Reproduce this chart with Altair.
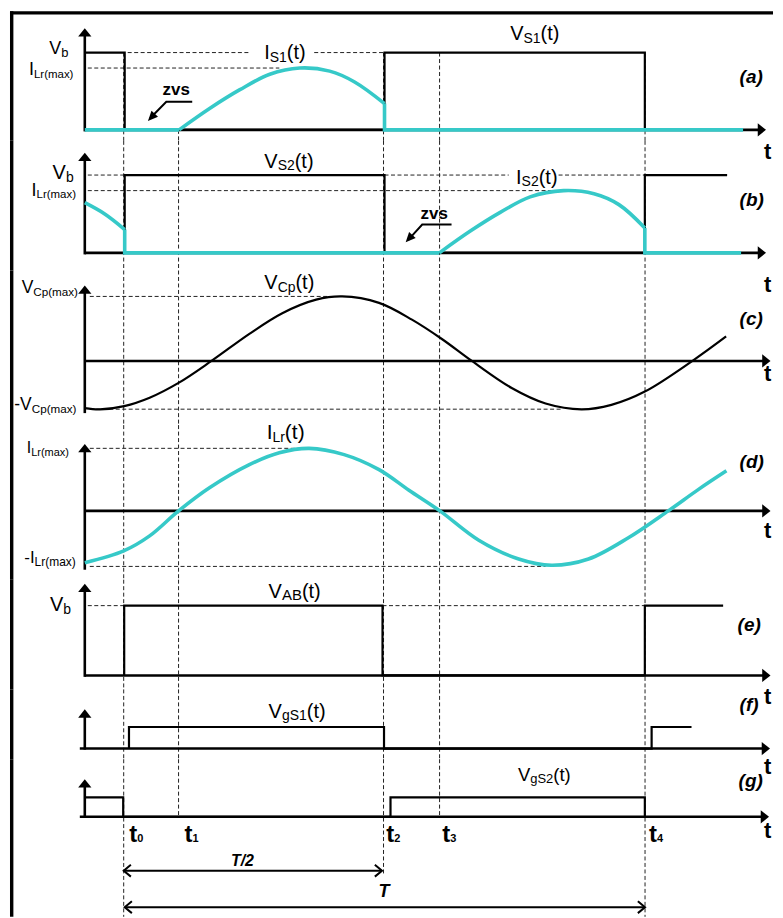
import altair as alt
import pandas as pd

# ------------------------------------------------------------------ data
# time axis: arbitrary units, t0 = 0, one period T = 522
EVENT_SUB = ["0", "1", "2", "3", "4"]
EVENT_T = [-0.5, 54.5, 260.0, 316.2, 522.2]
EVENT_LABEL_T = [5.0, 60.5, 262.8, 318.8, 526.2]

# (a) V_S1 and I_S1   (levels: Vb = 1, I_Lr(max) = 0.8)
VS1_T = [-39.5, 0.5, 0.5, 261.0, 261.0, 522.0, 522.0]
VS1_V = [1, 1, 0, 0, 1, 1, 0]
IS1_OFF1_T = [-39.5, 55.0]
IS1_OFF1_V = [0, 0]
IS1_ON_T = [55.0, 86.0, 116.0, 146.0, 176.0, 206.0, 231.0, 261.0]
IS1_ON_V = [0, 0.28, 0.52, 0.72, 0.80, 0.76, 0.62, 0.34]
IS1_OFF2_T = [261.0, 261.0, 620.5]
IS1_OFF2_V = [0.34, 0, 0]

# (b) V_S2 and I_S2
VS2_T = [0.5, 0.5, 261.0, 261.0, 522.0, 522.0, 604.5]
VS2_V = [0, 1, 1, 0, 0, 1, 1]
IS2_TAIL_T = [-39.5, -19.5, 0.5]
IS2_TAIL_V = [0.645, 0.50, 0.30]
IS2_OFF_T = [0.5, 0.5, 316.0]
IS2_OFF_V = [0.30, 0, 0]
IS2_ON_T = [316.0, 347.0, 377.0, 407.0, 440.5, 471.0, 496.0, 522.0]
IS2_ON_V = [0, 0.28, 0.52, 0.72, 0.80, 0.76, 0.62, 0.32]
IS2_OFF2_T = [522.0, 522.0, 618.5]
IS2_OFF2_V = [0.32, 0, 0]

# (c) V_Cp  (V_Cp(max) = 1)
VCP_T = [-39.5, -24.5, 0.0, 25.5, 54.5, 87.5, 125.5, 158.5, 192.5, 218.5, 255.5,
         288.5, 318.5, 348.5, 388.5, 422.5, 458.5, 488.5, 522.5, 570.5, 603.5]
VCP_V = [-0.73, -0.75, -0.70, -0.57, -0.34, 0.0, 0.42, 0.74, 0.95, 1.0, 0.90,
         0.64, 0.34, 0.0, -0.42, -0.66, -0.75, -0.68, -0.47, 0.01, 0.38]
VCP_MAX, VCP_MIN = 1.0, -0.747

# (d) I_Lr  (I_Lr(max) = 1)
ILR_T = [-39.5, -0.5, 25.5, 54.5, 85.5, 125.5, 155.5, 185.5, 220.5, 255.5, 285.5,
         316.5, 355.5, 395.5, 428.5, 465.5, 505.5, 545.5, 575.5, 603.8]
ILR_V = [-0.83, -0.64, -0.40, 0.0, 0.37, 0.74, 0.93, 1.0, 0.90, 0.66, 0.33,
         0.0, -0.47, -0.77, -0.87, -0.77, -0.43, 0.0, 0.34, 0.64]
ILR_MAX, ILR_MIN = 1.0, -0.888

# (e) V_AB
VAB_T = [0.0, 0.0, 259.0, 259.0, 522.0, 522.0, 600.5]
VAB_V = [0, 1, 1, 0, 0, 1, 1]

# (f) V_gS1, (g) V_gS2
VGS1_T = [4.8, 4.8, 260.5, 260.5, 528.8, 528.8, 568.8]
VGS1_V = [0, 1, 1, 0, 0, 1, 1]
VGS2_T = [-39.5, -1.0, -1.0, 267.0, 267.0, 522.0, 522.0]
VGS2_V = [1, 1, 0, 0, 1, 1, 0]

# ------------------------------------------------------------------ layout
FONT = "Liberation Sans"
CYAN = "#36C9C8"
XDOM = [-116.5, 650.5]   # one time unit = one pixel
W = 767
FRAME_T = -112.8
YAX_T = -39.5
T_LABEL_T = 641.5
UP = "M0,0L1,1.25L-1,1.25Z"
RIGHT = "M0,0L-1.25,-1L-1.25,1Z"
ZVS_HEAD = "M0,0L1,2.2L-1,2.2Z"
OPEN_R = "M-1.2,-1L0,0L-1.2,1"
OPEN_L = "M1.2,-1L0,0L1.2,1"

PANELS = {
    "a": dict(base=129.0, k=77.5, top=8, bottom=140),
    "b": dict(base=252.3, k=78.0, top=140, bottom=270),
    "c": dict(base=360.7, k=64.7, top=270, bottom=425),
    "d": dict(base=511.0, k=62.7, top=425, bottom=580),
    "e": dict(base=676.0, k=70.0, top=580, bottom=690),
    "f": dict(base=749.3, k=21.6, top=690, bottom=760),
    "g": dict(base=817.7, k=19.4, top=760, bottom=918),
}

W_REG = {'V': .667, 'b': .556, 'I': .278, 'L': .556, 'r': .333, '(': .333, ')': .333,
         'm': .833, 'a': .556, 'x': .5, 'S': .667, '1': .556, '2': .556, 't': .278,
         'C': .722, 'p': .556, '-': .333, 'A': .667, 'B': .667, 'g': .556}
W_BOLD = {'t': .333, 'z': .5, 'v': .556, 's': .556, 'T': .611, '/': .278}


def seg_rows(rows, name, ts, vs):
    for j, (t, v) in enumerate(zip(ts, vs)):
        rows.append(dict(seg=name, i=j, t=t, v=v))


def text_rows(out, style, t, v, parts, k):
    x = t
    for txt, size, dy in parts:
        out.append(dict(style=style, t=x, v=v - dy / k, text=txt, size=size))
        table = W_REG if style == "n" else W_BOLD
        x += sum(table.get(c, .556) for c in txt) * size


def xs(field="t"):
    return alt.X(f"{field}:Q", scale=alt.Scale(domain=XDOM, nice=False, zero=False), axis=None)


def ys(field, dom):
    return alt.Y(f"{field}:Q", scale=alt.Scale(domain=dom, nice=False, zero=False), axis=None)


def build_panel(p, black=(), black_smooth=(), cyan=(), cyan_smooth=(), hdash=(), vdash=(),
                axis=None, labels=(), extra_lines=(), heads=(), open_heads=(), frame_top=None):
    cfg = PANELS[p]
    k = cfg["k"]
    lo = (cfg["base"] - cfg["bottom"]) / k
    hi = (cfg["base"] - cfg["top"]) / k
    dom = [lo, hi]
    h = cfg["bottom"] - cfg["top"]
    layers = []

    # frame
    if frame_top is not None:
        fr = [dict(t1=FRAME_T, t2=FRAME_T, v1=lo, v2=frame_top + 1.7 / k),
              dict(t1=FRAME_T - 1.7, t2=XDOM[1], v1=frame_top, v2=frame_top)]
    else:
        fr = [dict(t1=FRAME_T, t2=FRAME_T, v1=lo, v2=hi)]
    layers.append(alt.Chart(pd.DataFrame(fr)).mark_rule(color="black", strokeWidth=3.4)
                  .encode(x=xs("t1"), x2="t2", y=ys("v1", dom), y2="v2"))
    # dashed guides
    if vdash:
        layers.append(alt.Chart(pd.DataFrame(vdash, columns=["t", "v1", "v2"]))
                      .mark_rule(color="#222", strokeWidth=1, strokeDash=[4, 2.5])
                      .encode(x=xs("t"), y=ys("v1", dom), y2="v2"))
    if hdash:
        layers.append(alt.Chart(pd.DataFrame(hdash, columns=["t1", "t2", "v"]))
                      .mark_rule(color="#222", strokeWidth=1, strokeDash=[4, 2.5])
                      .encode(x=xs("t1"), x2="t2", y=ys("v", dom)))
    # axes
    seglist = []
    hd = list(heads)
    if axis is not None:
        ytip, ybot, xstart, xtip = axis
        seglist.append(dict(t1=YAX_T, t2=YAX_T, v1=ybot, v2=ytip - 4 / k))
        seglist.append(dict(t1=xstart, t2=xtip - 4, v1=0, v2=0))
        hd.append(dict(t=YAX_T, v=ytip, path=UP, size=177, ang=0))
        hd.append(dict(t=xtip, v=0, path=RIGHT, size=177, ang=0))
    if seglist:
        layers.append(alt.Chart(pd.DataFrame(seglist)).mark_rule(color="black", strokeWidth=2.6)
                      .encode(x=xs("t1"), x2="t2", y=ys("v1", dom), y2="v2"))
    if hd:
        layers.append(alt.Chart(pd.DataFrame(hd)).mark_point(filled=True, opacity=1, color="black", strokeWidth=0)
                      .encode(x=xs("t"), y=ys("v", dom), shape=alt.Shape("path:N", scale=None),
                              size=alt.Size("size:Q", scale=None), angle=alt.Angle("ang:Q", scale=None)))
    if open_heads:
        layers.append(alt.Chart(pd.DataFrame(list(open_heads)))
                      .mark_point(filled=False, opacity=1, color="black", strokeWidth=2)
                      .encode(x=xs("t"), y=ys("v", dom), shape=alt.Shape("path:N", scale=None),
                              size=alt.Size("size:Q", scale=None)))
    if extra_lines:
        rows = []
        for n, (ts, vs) in enumerate(extra_lines):
            seg_rows(rows, f"e{n}", ts, vs)
        layers.append(alt.Chart(pd.DataFrame(rows)).mark_line(color="black", strokeWidth=2)
                      .encode(x=xs("t"), y=ys("v", dom), detail="seg:N", order="i:Q"))

    def lines(segs, color, width, interp):
        rows = []
        for n, (ts, vs) in enumerate(segs):
            seg_rows(rows, f"s{n}", ts, vs)
        return (alt.Chart(pd.DataFrame(rows))
                .mark_line(color=color, strokeWidth=width, interpolate=interp, strokeJoin="miter")
                .encode(x=xs("t"), y=ys("v", dom), detail="seg:N", order="i:Q"))

    if black:
        layers.append(lines(black, "black", 2.2, "linear"))
    if black_smooth:
        layers.append(lines(black_smooth, "black", 2.2, "catmull-rom"))
    if cyan:
        layers.append(lines(cyan, CYAN, 3.6, "linear"))
    if cyan_smooth:
        layers.append(lines(cyan_smooth, CYAN, 3.6, "catmull-rom"))

    trows = []
    for style, t, v, parts in labels:
        text_rows(trows, style, t, v, parts, k)
    tdf = pd.DataFrame(trows)
    for style, kw in [("n", {}), ("b", dict(fontWeight="bold")),
                      ("bi", dict(fontWeight="bold", fontStyle="italic"))]:
        sub = tdf[tdf["style"] == style] if len(tdf) else tdf
        if len(sub):
            layers.append(alt.Chart(sub).mark_text(align="left", baseline="alphabetic", font=FONT,
                                                   color="black", **kw)
                          .encode(x=xs("t"), y=ys("v", dom), text="text:N",
                                  size=alt.Size("size:Q", scale=None)))
    return alt.layer(*layers).properties(width=W, height=h)


def vd(panel_ranges):
    return [(t, a, b) for t, (a, b) in zip(EVENT_T, panel_ranges)]


def full(p):
    c = PANELS[p]
    return ((c["base"] - c["top"]) / c["k"], (c["base"] - c["bottom"]) / c["k"])


# ---- panel (a)
hiA, loA = full("a")
pa = build_panel(
    "a",
    black=[(VS1_T, VS1_V)],
    cyan=[(IS1_OFF1_T, IS1_OFF1_V), (IS1_OFF2_T, IS1_OFF2_V)],
    cyan_smooth=[(IS1_ON_T, IS1_ON_V)],
    hdash=[(3.5, 125.5, 1.0), (190.5, 261.0, 1.0), (-36.5, 155.5, 0.8)],
    vdash=vd([(1.0, loA), (0.0, loA), (1.0, loA), (1.0, loA), (1.0, loA)]),
    axis=(1.316, -0.02, YAX_T, 643.5),
    extra_lines=[([68.2, 42.2, 26.0], [0.364, 0.364, 0.15])],
    heads=[dict(t=23.8, v=0.116, path=ZVS_HEAD, size=81, ang=223.6)],
    frame_top=(129.0 - 11.7) / 77.5,
    labels=[
        ("n", -75.2, 0.977, [("V", 18, 0), ("b", 13, 3)]),
        ("n", -95.5, 0.71, [("I", 18, 0), ("Lr(max)", 11.5, 3)]),
        ("n", 140.3, 0.916, [("I", 20, 0), ("S1", 14, 2.5), ("(t)", 20, 0)]),
        ("n", 387.0, 1.161, [("V", 20, 0), ("S1", 14, 2.5), ("(t)", 20, 0)]),
        ("b", 38.5, 0.448, [("zvs", 17, 0)]),
        ("bi", 617.0, 0.606, [("(a)", 19, 0)]),
        ("b", T_LABEL_T, -0.374, [("t", 22, 0)]),
    ],
)

# ---- panel (b)
hiB, loB = full("b")
pb = build_panel(
    "b",
    black=[(VS2_T, VS2_V)],
    cyan=[(IS2_OFF_T, IS2_OFF_V), (IS2_OFF2_T, IS2_OFF2_V)],
    cyan_smooth=[(IS2_TAIL_T, IS2_TAIL_V), (IS2_ON_T, IS2_ON_V)],
    hdash=[(-36.5, 0.0, 1.0), (261.0, 385.5, 1.0), (435.5, 522.0, 1.0), (-36.5, 437.0, 0.8)],
    vdash=vd([(hiB, loB)] * 5),
    axis=(1.286, -0.02, YAX_T, 643.5),
    extra_lines=[([328.2, 298.8, 285.0], [0.363, 0.363, 0.17])],
    heads=[dict(t=282.2, v=0.136, path=ZVS_HEAD, size=81, ang=223.0)],
    labels=[
        ("n", -71.8, 0.949, [("V", 20, 0), ("b", 14, 3)]),
        ("n", -92.9, 0.735, [("I", 18, 0), ("Lr(max)", 11.5, 2)]),
        ("n", 140.5, 1.097, [("V", 20, 0), ("S2", 14, 2.5), ("(t)", 20, 0)]),
        ("n", 392.9, 0.885, [("I", 20, 0), ("S2", 14, 2.5), ("(t)", 20, 0)]),
        ("b", 297.2, 0.436, [("zvs", 17, 0)]),
        ("bi", 617.0, 0.606, [("(b)", 19, 0)]),
        ("b", T_LABEL_T, -0.509, [("t", 22, 0)]),
    ],
)

# ---- panel (c)
hiC, loC = full("c")
pc = build_panel(
    "c",
    black_smooth=[(VCP_T, VCP_V)],
    hdash=[(-34.5, 205.5, VCP_MAX), (-34.5, 437.5, VCP_MIN)],
    vdash=vd([(hiC, loC)] * 5),
    axis=(1.17, -0.808, YAX_T, 648.0),
    labels=[
        ("n", -102.8, 1.054, [("V", 17.5, 0), ("Cp(max)", 11.7, 3)]),
        ("n", -110.2, -0.762, [("-V", 17.5, 0), ("Cp(max)", 11.7, 3)]),
        ("n", 140.5, 1.108, [("V", 20, 0), ("Cp", 14, 2.5), ("(t)", 20, 0)]),
        ("bi", 617.0, 0.552, [("(c)", 19, 0)]),
        ("b", T_LABEL_T, -0.314, [("t", 22, 0)]),
    ],
)

# ---- panel (d)
hiD, loD = full("d")
pd_ = build_panel(
    "d",
    cyan_smooth=[(ILR_T, ILR_V)],
    hdash=[(-34.5, 180.5, ILR_MAX), (-34.5, 422.5, ILR_MIN)],
    vdash=vd([(hiD, loD)] * 5),
    axis=(1.069, -0.941, YAX_T, 648.0),
    labels=[
        ("n", -97.7, 0.92, [("I", 16, 0), ("Lr(max)", 11, 2.5)]),
        ("n", -100.2, -0.834, [("-I", 17, 0), ("Lr(max)", 12, 2.5)]),
        ("n", 142.8, 1.144, [("I", 21, 0), ("Lr", 14, 2.5), ("(t)", 21, 0)]),
        ("bi", 617.0, 0.678, [("(d)", 19, 0)]),
        ("b", T_LABEL_T, -0.431, [("t", 22, 0)]),
    ],
)

# ---- panel (e)
hiE, loE = full("e")
pe = build_panel(
    "e",
    black=[(VAB_T, VAB_V)],
    hdash=[(-36.5, 0.0, 1.0), (259.0, 522.0, 1.0)],
    vdash=vd([(hiE, loE)] * 5),
    axis=(1.314, -0.02, YAX_T, 648.0),
    labels=[
        ("n", -74.5, 0.919, [("V", 20, 0), ("b", 14, 3)]),
        ("n", 144.8, 1.11, [("V", 20, 0), ("AB", 15, 2), ("(t)", 20, 0)]),
        ("bi", 615.0, 0.636, [("(e)", 19, 0)]),
        ("b", T_LABEL_T, -0.414, [("t", 22, 0)]),
    ],
)

# ---- panel (f)
hiF, loF = full("f")
pf = build_panel(
    "f",
    black=[(VGS1_T, VGS1_V)],
    vdash=vd([(hiF, loF)] * 5),
    axis=(1.82, -0.05, -44.5, 647.5),
    labels=[
        ("n", 144.8, 1.435, [("V", 20, 0), ("gS1", 14, 2), ("(t)", 20, 0)]),
        ("bi", 617.0, 1.75, [("(f)", 19, 0)]),
        ("b", T_LABEL_T, -1.19, [("t", 22, 0)]),
    ],
)

# ---- panel (g)
hiG, loG = full("g")
HALF_V, FULL_V = -2.784, -4.67
g_labels = [
    ("n", 394.8, 1.856, [("V", 18.5, 0), ("gS2", 13, 2), ("(t)", 18.5, 0)]),
    ("bi", 616.0, 1.531, [("(g)", 19, 0)]),
    ("b", T_LABEL_T, -1.098, [("t", 22, 0)]),
    ("bi", 107.0, -2.54, [("T/2", 16, 0)]),
    ("bi", 255.0, -4.14, [("T", 18, 0)]),
]
for s, tl in zip(EVENT_SUB, EVENT_LABEL_T):
    g_labels.append(("b", tl, -1.32, [("t", 24, 0), (s, 11, 0)]))
pg = build_panel(
    "g",
    black=[(VGS2_T, VGS2_V)],
    vdash=vd([(hiG, loG), (hiG, 0.0), (hiG, -2.95), (hiG, 0.0), (hiG, loG)]),
    axis=(1.943, -0.05, -44.5, 646.5),
    extra_lines=[([EVENT_T[0], EVENT_T[2] - 1.5], [HALF_V, HALF_V]),
                 ([EVENT_T[0] + 1, EVENT_T[4]], [FULL_V, FULL_V])],
    open_heads=[dict(t=EVENT_T[0], v=HALF_V, path=OPEN_L, size=144),
                dict(t=EVENT_T[2] - 1.5, v=HALF_V, path=OPEN_R, size=144),
                dict(t=EVENT_T[0] + 1, v=FULL_V, path=OPEN_L, size=144),
                dict(t=EVENT_T[4], v=FULL_V, path=OPEN_R, size=144)],
    labels=g_labels,
)

chart = (alt.vconcat(pa, pb, pc, pd_, pe, pf, pg, spacing=0, bounds="flush", padding=0)
         .resolve_scale(x="independent", y="independent")
         .configure_view(strokeWidth=0))

chart.save("out.html", embed_options={"renderer": "svg", "actions": False})
